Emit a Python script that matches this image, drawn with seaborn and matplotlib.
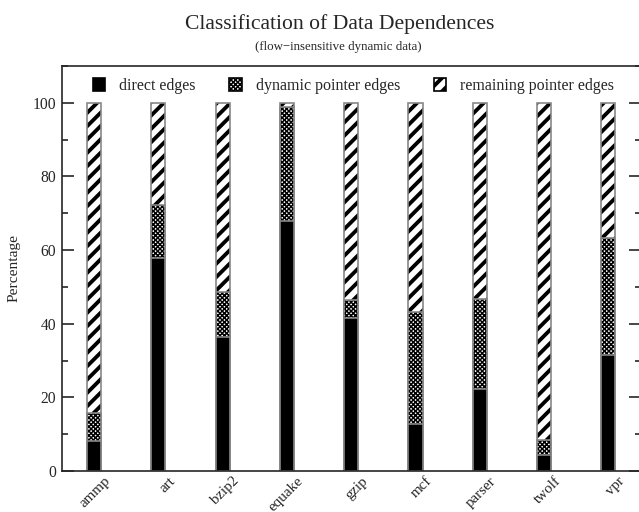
import matplotlib
matplotlib.use("Agg")
import matplotlib.pyplot as plt
import matplotlib as mpl
import matplotlib.transforms as mtransforms
from matplotlib.patches import Patch
from matplotlib.ticker import MultipleLocator
import seaborn as sns
import pandas as pd

# benchmark names and percentages
benchmarks = ['ammp', 'art', 'bzip2', 'equake', 'gzip', 'mcf', 'parser', 'twolf', 'vpr']
direct = [8.2, 57.8, 36.4, 68.0, 41.5, 12.8, 22.3, 4.3, 31.5]
dynamic = [7.6, 14.5, 12.2, 31.0, 5.0, 30.5, 24.4, 4.1, 31.9]
remaining = [100 - d - y for d, y in zip(direct, dynamic)]

df = pd.DataFrame({
    'bench': benchmarks,
    'direct': direct,
    'dyn_top': [d + y for d, y in zip(direct, dynamic)],
    'total': [d + y + r for d, y, r in zip(direct, dynamic, remaining)],
})

sns.set_style('white')
plt.rcParams['font.family'] = ['Liberation Serif', 'DejaVu Serif']
plt.rcParams['axes.linewidth'] = 1.0

STRIPE = '///'
CHECK = 'xxxxxxxxx'
hatch_lw = {STRIPE: 2.3, CHECK: 0.9}


def style_hatch(p):
    # black hatch, own hatch linewidth while the patch is drawn
    h = p.get_hatch()
    if not h:
        return
    p._hatch_color = (0, 0, 0, 1)
    lw = hatch_lw.get(h, 1.0)
    if hasattr(p, 'set_hatch_linewidth'):
        p.set_hatch_linewidth(lw)
    orig = p.draw

    def draw(renderer, orig=orig, lw=lw):
        with mpl.rc_context({'hatch.linewidth': lw}):
            orig(renderer)
    p.draw = draw


fig = plt.figure(figsize=(639 / 120, 512 / 120), dpi=120)
ax = fig.add_axes([62 / 639, 41 / 512, 578.5 / 639, 405 / 512])

bw = 0.22
edge = '#888888'

# stacked look: draw totals first, then overlay the lower segments
sns.barplot(data=df, x='bench', y='total', ax=ax, color='white', hatch=STRIPE,
            edgecolor=edge, linewidth=1.0, width=bw, saturation=1)
sns.barplot(data=df, x='bench', y='dyn_top', ax=ax, color='white', hatch=CHECK,
            edgecolor=edge, linewidth=1.0, width=bw, saturation=1)
sns.barplot(data=df, x='bench', y='direct', ax=ax, color='black',
            edgecolor=edge, linewidth=1.0, width=bw, saturation=1)

for p in ax.patches:
    style_hatch(p)

ax.set_xlim(-0.5, 8.5)
ax.set_ylim(0, 110)
ax.set_yticks([0, 20, 40, 60, 80, 100])
ax.yaxis.set_minor_locator(MultipleLocator(10))
ax.tick_params(axis='y', which='major', direction='in', length=7.2, width=1,
               left=True, right=True, labelsize=9.4, pad=3.6)
ax.tick_params(axis='y', which='minor', direction='in', length=3.6, width=1,
               left=True, right=True)
ax.tick_params(axis='x', length=0, labelsize=9, pad=2)
shift = mtransforms.ScaledTranslation(10 / 120, 0, fig.dpi_scale_trans)
for lbl in ax.get_xticklabels():
    lbl.set_rotation(45)
    lbl.set_ha('right')
    lbl.set_va('top')
    lbl.set_rotation_mode('anchor')
    lbl.set_transform(lbl.get_transform() + shift)
ax.set_xlabel('')
ax.set_ylabel('Percentage', fontsize=9.2)
ax.yaxis.set_label_coords(-0.071, 0.5)

handles = [
    Patch(facecolor='black', edgecolor='black', label='direct edges'),
    Patch(facecolor='white', edgecolor='black', hatch=CHECK, label='dynamic pointer edges'),
    Patch(facecolor='white', edgecolor='black', hatch=STRIPE, label='remaining pointer edges'),
]
leg = ax.legend(handles=handles, loc='upper center', bbox_to_anchor=(0.5035, 1.006), ncol=3,
                frameon=False, fontsize=9.6, handlelength=0.8, handleheight=0.8,
                columnspacing=2.1, handletextpad=0.85)
for p in leg.get_patches():
    style_hatch(p)

fig.text(340 / 639, 1 - 24 / 512, 'Classification of Data Dependences',
         ha='center', va='center', fontsize=13)
fig.text(338 / 639, 1 - 47 / 512, '(flow\u2212insensitive dynamic data)',
         ha='center', va='center', fontsize=7.7)

fig.savefig('out.png', dpi=120)
